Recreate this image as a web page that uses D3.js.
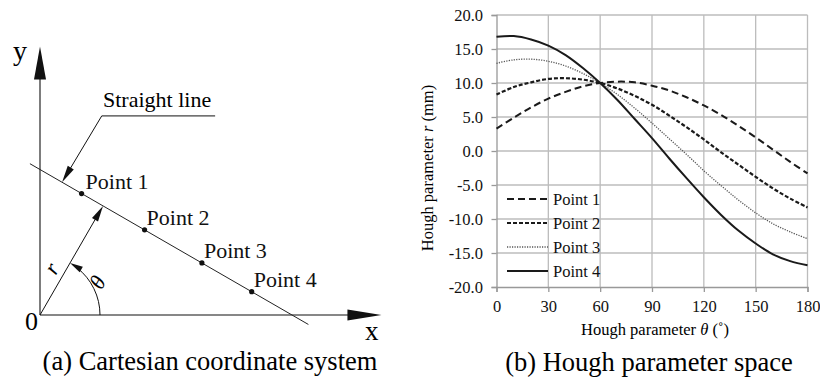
<!DOCTYPE html>
<html>
<head>
<meta charset="utf-8">
<script src="https://cdn.jsdelivr.net/npm/d3@7"></script>
<style>
  html, body { margin: 0; padding: 0; background: #fff; }
  svg { display: block; }
  svg text { font-family: 'Liberation Serif', Tinos, 'DejaVu Serif', 'Noto Serif', serif; }
</style>
</head>
<body>
<svg id="fig" width="820" height="380"></svg>
<script>
// ---- Hough curves r(θ) for the four points on the line ----
const theta  = [0, 10, 20, 30, 40, 50, 60, 70, 80, 90, 100, 110, 120, 130, 140, 150, 160, 170, 180];
const point1 = [3.3, 4.9, 6.4, 7.7, 8.7, 9.5, 10.0, 10.2, 10.1, 9.6, 8.9, 7.9, 6.7, 5.3, 3.7, 2.0, 0.2, -1.6, -3.3];
const point2 = [8.3, 9.4, 10.1, 10.6, 10.7, 10.5, 10.0, 9.2, 8.1, 6.8, 5.2, 3.5, 1.7, -0.2, -2.0, -3.8, -5.5, -7.0, -8.3];
const point3 = [12.9, 13.4, 13.5, 13.2, 12.5, 11.4, 10.0, 8.3, 6.3, 4.1, 1.8, -0.5, -2.9, -5.1, -7.2, -9.1, -10.7, -11.9, -12.9];
const point4 = [16.8, 16.9, 16.4, 15.5, 14.1, 12.2, 10.0, 7.5, 4.7, 1.9, -1.1, -4.0, -6.8, -9.4, -11.7, -13.6, -15.2, -16.2, -16.8];
const seriesNames = ["Point 1", "Point 2", "Point 3", "Point 4"];
const xTicks = [0, 30, 60, 90, 120, 150, 180];
const yTicks = [-20, -15, -10, -5, 0, 5, 10, 15, 20];

// ---- Cartesian sketch: point coordinates (mm) and the line (r, θ) ----
const pointX = [3.3, 8.3, 12.85, 16.8];
const pointY = [9.64, 6.76, 4.13, 1.85];
const lineR = 10;
const lineThetaDeg = 60;
const lineXRange = [-0.8, 21.3];
const axisXMax = 27.1;
const axisYMax = 21.3;

const SERIF = "'Liberation Serif', Tinos, 'DejaVu Serif', 'Noto Serif', serif";
const svg = d3.select("#fig").attr("font-family", SERIF);
const ink = "#111";

function arrowHead(g, tip, dir, len, half) {
  const n = [-dir[1], dir[0]];
  const bx = tip[0] - dir[0] * len, by = tip[1] - dir[1] * len;
  g.append("path")
    .attr("d", `M${tip[0]},${tip[1]}L${bx + n[0] * half},${by + n[1] * half}L${bx - n[0] * half},${by - n[1] * half}Z`)
    .attr("fill", ink);
}
function unit(a, b) {
  const dx = b[0] - a[0], dy = b[1] - a[1], l = Math.hypot(dx, dy);
  return [dx / l, dy / l];
}

// ================= (a) Cartesian coordinate system =================
const ga = svg.append("g");
const sx = d3.scaleLinear().domain([0, 1]).range([40, 52.6]);
const sy = d3.scaleLinear().domain([0, 1]).range([315, 302.4]);
const O = [sx(0), sy(0)];

// axes
ga.append("line").attr("x1", O[0]).attr("y1", O[1]).attr("x2", sx(axisXMax) - 20).attr("y2", O[1])
  .attr("stroke", ink).attr("stroke-width", 1.1);
ga.append("line").attr("x1", O[0]).attr("y1", O[1]).attr("x2", O[0]).attr("y2", sy(axisYMax) + 20)
  .attr("stroke", ink).attr("stroke-width", 1.1);
arrowHead(ga, [sx(axisXMax), O[1]], [1, 0], 34, 5.5);
arrowHead(ga, [O[0], sy(axisYMax)], [0, -1], 33, 6);

ga.append("text").attr("x", 13).attr("y", 60).attr("font-size", 28).text("y");
ga.append("text").attr("x", 365).attr("y", 340).attr("font-size", 27).text("x");
ga.append("text").attr("x", 25).attr("y", 330).attr("font-size", 26).text("0");

// straight line  x·cosθ + y·sinθ = r
const c = Math.cos(lineThetaDeg * Math.PI / 180), s = Math.sin(lineThetaDeg * Math.PI / 180);
const lineY = x => (lineR - x * c) / s;
ga.append("line")
  .attr("x1", sx(lineXRange[0])).attr("y1", sy(lineY(lineXRange[0])))
  .attr("x2", sx(lineXRange[1])).attr("y2", sy(lineY(lineXRange[1])))
  .attr("stroke", "#222").attr("stroke-width", 1);

// normal vector r
const foot = [sx(lineR * c), sy(lineR * s)];
const rDir = unit(O, foot);
ga.append("line").attr("x1", O[0]).attr("y1", O[1])
  .attr("x2", foot[0] - rDir[0] * 8).attr("y2", foot[1] - rDir[1] * 8)
  .attr("stroke", ink).attr("stroke-width", 1);
arrowHead(ga, foot, rDir, 16, 3.5);

// angle arc θ
const arcR = 60;
const aEnd = lineThetaDeg * Math.PI / 180;
const arcTip = [O[0] + arcR * Math.cos(aEnd), O[1] - arcR * Math.sin(aEnd)];
const aStop = aEnd - 0.14;
ga.append("path")
  .attr("d", `M${O[0] + arcR},${O[1]}A${arcR},${arcR} 0 0 0 ${O[0] + arcR * Math.cos(aStop)},${O[1] - arcR * Math.sin(aStop)}`)
  .attr("fill", "none").attr("stroke", ink).attr("stroke-width", 1);
arrowHead(ga, arcTip, [-Math.sin(aEnd), -Math.cos(aEnd)], 13, 3.2);

ga.append("text").attr("transform", `translate(58,272) rotate(-60)`)
  .attr("font-size", 22).attr("font-style", "italic").attr("text-anchor", "middle").text("r");
ga.append("text").attr("transform", `translate(104,286) rotate(-60)`)
  .attr("font-size", 22).attr("font-style", "italic").attr("text-anchor", "middle").text("θ");

// points on the line
ga.selectAll("circle.pt").data(pointX).join("circle").attr("class", "pt")
  .attr("cx", (d, i) => sx(d)).attr("cy", (d, i) => sy(pointY[i])).attr("r", 2.6).attr("fill", ink);
ga.selectAll("text.pt").data(pointX).join("text").attr("class", "pt")
  .attr("x", (d, i) => sx(d) + 2 + (i === 0 ? 2 : 0)).attr("y", (d, i) => sy(pointY[i]) - 5)
  .attr("font-size", 22).attr("fill", ink).text((d, i) => seriesNames[i]);

// "Straight line" leader
const leadTipX = 1.75;
const leadTip = [sx(leadTipX), sy(lineY(leadTipX))];
const elbow = [sx(4.9), sy(15.8)];
const leadEnd = [sx(13.9), sy(15.8)];
const lDir = unit(elbow, leadTip);
ga.append("path")
  .attr("d", `M${leadEnd[0]},${leadEnd[1]}L${elbow[0]},${elbow[1]}L${leadTip[0] - lDir[0] * 10},${leadTip[1] - lDir[1] * 10}`)
  .attr("fill", "none").attr("stroke", ink).attr("stroke-width", 1);
arrowHead(ga, leadTip, lDir, 17, 3.5);
ga.append("text").attr("x", 103).attr("y", 107).attr("font-size", 22).text("Straight line");

ga.append("text").attr("x", 210).attr("y", 370).attr("font-size", 26.5).attr("text-anchor", "middle")
  .text("(a) Cartesian coordinate system");

// ================= (b) Hough parameter space =================
const gb = svg.append("g");
const x = d3.scaleLinear().domain([0, 180]).range([496.5, 807.5]);
const y = d3.scaleLinear().domain([-20, 20]).range([287, 15]);
const gridCol = "#bcbcbc";

gb.append("g").selectAll("line").data(xTicks.slice(1)).join("line")
  .attr("x1", d => x(d)).attr("x2", d => x(d)).attr("y1", y(-20)).attr("y2", y(20))
  .attr("stroke", gridCol).attr("stroke-width", 1.3);
gb.append("g").selectAll("line").data(yTicks.slice(1)).join("line")
  .attr("x1", x(0)).attr("x2", x(180)).attr("y1", d => y(d)).attr("y2", d => y(d))
  .attr("stroke", gridCol).attr("stroke-width", 1.3);

const yAxis = gb.append("g").attr("transform", `translate(${x(0)},0)`)
  .call(d3.axisLeft(y).tickValues(yTicks).tickSize(5).tickPadding(8.5).tickFormat(d => d.toFixed(1)));
const xAxis = gb.append("g").attr("transform", `translate(0,${y(-20)})`)
  .call(d3.axisBottom(x).tickValues(xTicks).tickSize(5).tickPadding(8.5).tickFormat(d => d));
[yAxis, xAxis].forEach(a => {
  a.attr("font-family", SERIF).attr("font-size", 16.5);
  a.selectAll("path.domain").attr("stroke", "#999").attr("stroke-width", 1.3);
  a.selectAll(".tick line").attr("stroke", "#999").attr("stroke-width", 1.3);
  a.selectAll("text").attr("fill", ink);
});

const seriesData = [point1, point2, point3, point4];
const styles = [
  { dash: "7,4", w: 2, col: "#1a1a1a" },
  { dash: "4,2", w: 2.2, col: "#1a1a1a" },
  { dash: "1.2,1.3", w: 1.3, col: "#555" },
  { dash: null, w: 2, col: "#1a1a1a" }
];
const lineGen = d3.line().x((d, i) => x(theta[i])).y(d => y(d)).curve(d3.curveCatmullRom.alpha(0.5));
gb.append("g").selectAll("path").data(seriesData).join("path")
  .attr("d", d => lineGen(d)).attr("fill", "none")
  .attr("stroke", (d, i) => styles[i].col).attr("stroke-width", (d, i) => styles[i].w)
  .attr("stroke-dasharray", (d, i) => styles[i].dash);

// legend
const legY = d3.scaleLinear().domain([0, 3]).range([199, 271]);
const leg = gb.append("g");
leg.selectAll("line").data(seriesNames).join("line")
  .attr("x1", 507).attr("x2", 548).attr("y1", (d, i) => legY(i)).attr("y2", (d, i) => legY(i))
  .attr("stroke", (d, i) => styles[i].col).attr("stroke-width", (d, i) => styles[i].w)
  .attr("stroke-dasharray", (d, i) => styles[i].dash);
leg.selectAll("text").data(seriesNames).join("text")
  .attr("x", 553).attr("y", (d, i) => legY(i) + 5.5).attr("font-size", 16.5).attr("fill", ink).text(d => d);

// axis titles
const xt = gb.append("text").attr("x", 655).attr("y", 335).attr("font-size", 16.5).attr("text-anchor", "middle");
xt.append("tspan").text("Hough parameter ");
xt.append("tspan").attr("font-style", "italic").text("θ");
xt.append("tspan").text(" (˚)");
const yt = gb.append("text").attr("transform", "translate(433,168) rotate(-90)")
  .attr("font-size", 16.5).attr("text-anchor", "middle");
yt.append("tspan").text("Hough parameter ");
yt.append("tspan").attr("font-style", "italic").text("r");
yt.append("tspan").text(" (mm)");

gb.append("text").attr("x", 649).attr("y", 371).attr("font-size", 26.5).attr("text-anchor", "middle")
  .text("(b) Hough parameter space");
</script>
</body>
</html>
